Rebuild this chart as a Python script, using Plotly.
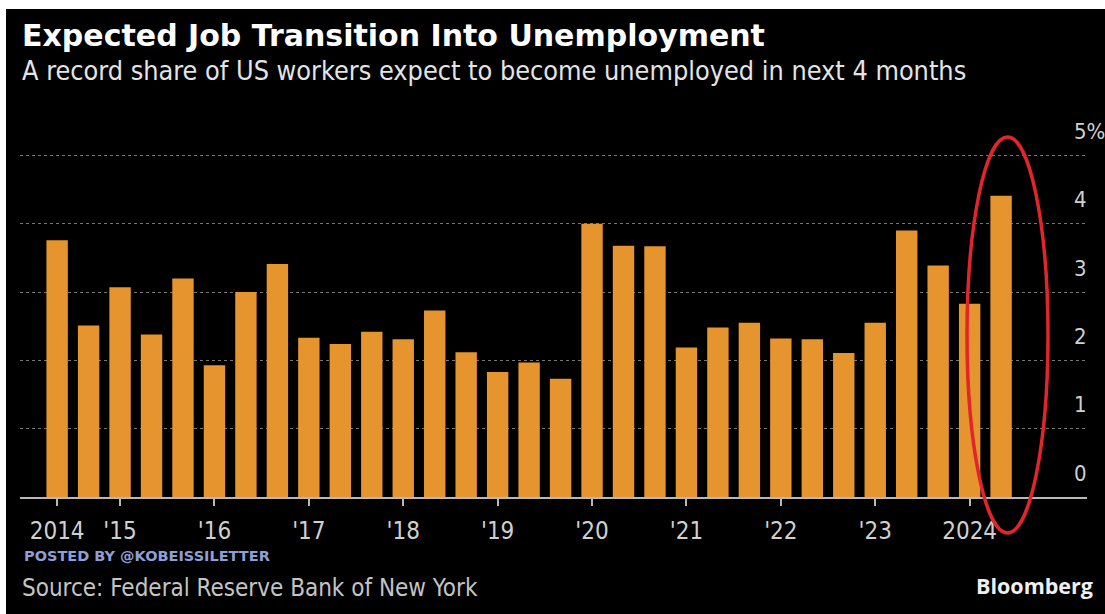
import plotly.graph_objects as go

# Survey waves (every four months) and share of workers expecting to become unemployed, %
periods = [
    "Jul 2014", "Nov 2014",
    "Mar 2015", "Jul 2015", "Nov 2015",
    "Mar 2016", "Jul 2016", "Nov 2016",
    "Mar 2017", "Jul 2017", "Nov 2017",
    "Mar 2018", "Jul 2018", "Nov 2018",
    "Mar 2019", "Jul 2019", "Nov 2019",
    "Mar 2020", "Jul 2020", "Nov 2020",
    "Mar 2021", "Jul 2021", "Nov 2021",
    "Mar 2022", "Jul 2022", "Nov 2022",
    "Mar 2023", "Jul 2023", "Nov 2023",
    "Mar 2024", "Jul 2024",
]
job_loss_expectation = [
    3.76, 2.51,
    3.07, 2.38, 3.20,
    1.93, 3.00, 3.41,
    2.33, 2.24, 2.42,
    2.31, 2.73, 2.12,
    1.83, 1.97, 1.73,
    4.00, 3.68, 3.67,
    2.19, 2.48, 2.55,
    2.32, 2.31, 2.11,
    2.55, 3.90, 3.39,
    2.83, 4.41,
]
year_ticks = ["Jul 2014", "Mar 2015", "Mar 2016", "Mar 2017", "Mar 2018", "Mar 2019",
              "Mar 2020", "Mar 2021", "Mar 2022", "Mar 2023", "Mar 2024"]
year_labels = ["2014", "'15", "'16", "'17", "'18", "'19", "'20", "'21", "'22", "'23", "2024"]
y_ticks = [0, 1, 2, 3, 4, 5]
y_labels = ["0", "1", "2", "3", "4", "5%"]

W, H = 1105, 614
ML, MR, MT, MB = 20, 18, 135, 117
PW, PH = W - ML - MR, H - MT - MB


def px(x):
    return (x - ML) / PW


def py(y):
    return (H - MB - y) / PH


BAR = "#E6942E"
FONT = "DejaVu Sans Condensed"

fig = go.Figure()
fig.add_trace(go.Bar(
    x=periods, y=job_loss_expectation,
    marker=dict(color=BAR, line=dict(width=0)),
    hoverinfo="x+y",
))

fig.update_layout(
    width=W, height=H,
    margin=dict(l=ML, r=MR, t=MT, b=MB),
    paper_bgcolor="#000000",
    plot_bgcolor="#000000",
    bargap=0.32,
    showlegend=False,
    font=dict(family=FONT, color="#d8d8d8"),
    xaxis=dict(
        type="category",
        range=[-1.18, 32.73],
        tickmode="array", tickvals=year_ticks, ticktext=year_labels,
        ticks="outside", ticklen=7, tickwidth=2, tickcolor="#b8b8b8",
        tickfont=dict(family=FONT, size=24, color="#d0d0d0"),
        ticklabelstandoff=4,
        showline=True, linecolor="#b8b8b8", linewidth=2,
        showgrid=False, zeroline=False,
    ),
    yaxis=dict(
        range=[0, 5.3],
        tickvals=y_ticks,
        showticklabels=False,
        showgrid=True, gridcolor="#777777", gridwidth=1.3, griddash="dot",
        zeroline=False,
    ),
)

# Right-hand value labels sitting above each gridline
for v, t in zip(y_ticks, y_labels):
    fig.add_annotation(
        x=px(1072), xref="paper", y=v, yref="y",
        text=t, showarrow=False, xanchor="left", yanchor="middle",
        yshift=24, font=dict(family=FONT, size=22, color="#d0d0d0"),
    )

# Header
fig.add_annotation(
    x=px(20), y=py(36), xref="paper", yref="paper",
    text="<b>Expected Job Transition Into Unemployment</b>",
    showarrow=False, xanchor="left", yanchor="middle",
    font=dict(family="DejaVu Sans", size=30, color="#ffffff"),
)
fig.add_annotation(
    x=px(20), y=py(70), xref="paper", yref="paper",
    text="A record share of US workers expect to become unemployed in next 4 months",
    showarrow=False, xanchor="left", yanchor="middle",
    font=dict(family=FONT, size=26.8, color="#e4e4e4"),
)

# Footer
fig.add_annotation(
    x=px(22), y=py(556), xref="paper", yref="paper",
    text="<b>POSTED BY @KOBEISSILETTER</b>",
    showarrow=False, xanchor="left", yanchor="middle",
    font=dict(family="DejaVu Sans", size=14.5, color="#8f9fd6"),
)
fig.add_annotation(
    x=px(20), y=py(588), xref="paper", yref="paper",
    text="Source: Federal Reserve Bank of New York",
    showarrow=False, xanchor="left", yanchor="middle",
    font=dict(family=FONT, size=24, color="#c4c4c4"),
)
fig.add_annotation(
    x=px(1095), y=py(585), xref="paper", yref="paper",
    text="<b>Bloomberg</b>",
    showarrow=False, xanchor="right", yanchor="middle",
    font=dict(family="Open Sans", size=21.5, color="#f0f0f0"),
)

# White frame strip along the top and left edges
fig.add_shape(type="rect", xref="paper", yref="paper",
              x0=px(0), x1=px(W), y0=py(9), y1=py(0),
              fillcolor="#ffffff", line=dict(width=0), layer="above")
fig.add_shape(type="rect", xref="paper", yref="paper",
              x0=px(0), x1=px(6), y0=py(H), y1=py(0),
              fillcolor="#ffffff", line=dict(width=0), layer="above")

# Red highlight ring around the latest reading
fig.add_shape(type="circle", xref="paper", yref="paper",
              x0=px(967), x1=px(1048), y0=py(533), y1=py(137),
              line=dict(color="#e0252b", width=3.5), fillcolor="rgba(0,0,0,0)",
              layer="above")

fig.write_html("out.html")
